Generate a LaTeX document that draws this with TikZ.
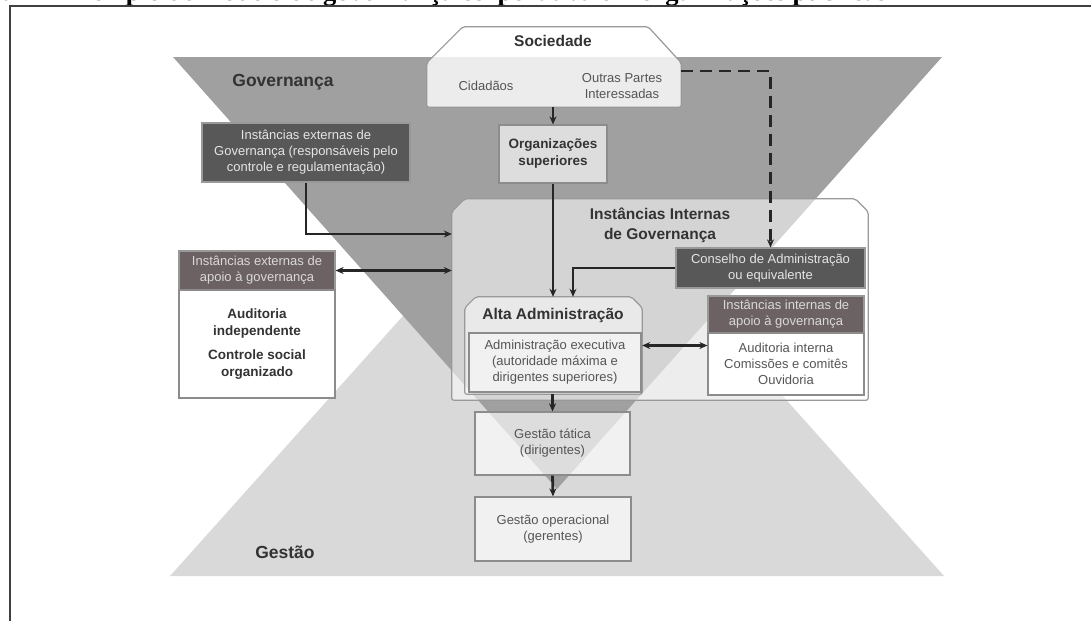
\documentclass[tikz,border=0pt]{standalone}
\usepackage{fontspec}
\setmainfont{Liberation Sans}
\newfontfamily\capfont{Liberation Serif}
\usetikzlibrary{arrows.meta, positioning, calc}

\definecolor{govtri}{RGB}{160,160,160}
\definecolor{gestri}{RGB}{217,217,217}
\definecolor{govdarkbox}{RGB}{88,88,88}
\definecolor{govmauvebox}{RGB}{108,98,100}
\definecolor{govtextgray}{RGB}{85,85,85}

\newcommand{\govtitle}{\fontsize{15.5}{20}\selectfont\bfseries}
\newcommand{\govsub}{\fontsize{13.5}{17}\selectfont\bfseries}
\newcommand{\govtext}{\fontsize{13}{16}\selectfont}
\newcommand{\govlabel}{\fontsize{17.5}{20}\selectfont\bfseries}

\tikzset{
  govblock/.style={rectangle, draw=black!45, line width=1.2pt,
                   align=center, inner sep=2pt, text opacity=1},
  govlight/.style={govblock, fill=white, fill opacity=0.65,
                   text=govtextgray, font=\govtext},
  govwhite/.style={govblock, fill=white, text=govtextgray, font=\govtext},
  govdark/.style={govblock, fill=govdarkbox, draw=black!40,
                  text=white!90!black, font=\govtext},
  govmauve/.style={govblock, fill=govmauvebox, draw=black!40,
                   text=white!85!black, font=\govtext},
  govarea/.style={rectangle, inner sep=0pt},
  govoutline/.style={draw=black!40, line width=1.2pt, fill=white,
                     fill opacity=0.55, rounded corners=2pt},
  govarrow/.style={-{Stealth[length=8pt, width=7pt]}, line width=2.8pt, black!85},
  govdarrow/.style={{Stealth[length=8pt, width=7pt]}-{Stealth[length=8pt, width=7pt]},
                    line width=2.8pt, black!85},
  govdash/.style={govarrow, dash pattern=on 12pt off 7pt},
}

\begin{document}
\begin{tikzpicture}[x=1pt, y=-1pt]
  \useasboundingbox (0,0) rectangle (1091,621);

  % Legenda (cortada) e moldura
  \node[anchor=base west, inner sep=0pt, font=\capfont\fontsize{26.5}{28}\selectfont\bfseries] (legenda) at (-62,0.5)
    {Figura 1 – Exemplo de modelo de governança corporativa em organizações públicas};
  \draw[line width=2pt, black!75] (10,621) -- (10,6) -- (1091,6);

  % Triangulos
  \fill[gestri] (170,576) -- (944,576) -- (557,144) -- cycle;
  \fill[govtri] (173,57) -- (942,57) -- (557,489) -- cycle;
  \node[font=\govlabel, text=black!80] (gov) at (283,82) {Governança};
  \node[font=\govlabel, text=black!80] (gest) at (285,552) {Gestão};

  % Sociedade
  \node[govarea, minimum width=254pt, minimum height=80pt] (soc) at (554,67) {};
  \path[govoutline, fill opacity=0.8] (soc.south west) -- ([yshift=-36pt]soc.north west)
    -- ([xshift=36pt]soc.north west) -- ([xshift=-33pt]soc.north east)
    -- ([yshift=-36pt]soc.north east) -- (soc.south east) -- cycle;
  \node[font=\govtitle, text=black!80] (soctitle) at (553,41) {Sociedade};
  \node[font=\govtext, text=govtextgray] (cid) at (486,86) {Cidadãos};
  \node[font=\govtext, text=govtextgray, align=center] (outras) at (622,86)
    {Outras Partes\\Interessadas};

  % Blocos externos
  \node[govlight, font=\govsub, text=black!80, minimum width=108pt, minimum height=58pt] (orgsup) at (553,154)
    {Organizações\\superiores};
  \node[govdark, minimum width=208pt, minimum height=59pt] (extgov) at (306,152.5)
    {Instâncias externas de\\Governança (responsáveis pelo\\controle e regulamentação)};
  \node[govmauve, minimum width=156pt, minimum height=39pt] (extapoiohead) at (257,270.5)
    {Instâncias externas de\\apoio à governança};
  \node[govwhite, font=\govsub, text=black!80, minimum width=156pt, minimum height=108pt] (extapoiobody) at (257,344)
    {Auditoria\\independente\\[7pt]Controle social\\organizado};

  % Instancias internas
  \node[govarea, minimum width=416pt, minimum height=201pt] (internas) at (660,299.5) {};
  \path[govoutline] (internas.south west) -- ([yshift=-13pt]internas.north west)
    -- ([xshift=13pt]internas.north west) -- ([xshift=-13pt]internas.north east)
    -- ([yshift=-13pt]internas.north east) -- (internas.south east) -- cycle;
  \node[font=\govtitle, text=black!80, align=center] (intitle) at (660,225)
    {Instâncias Internas\\de Governança};
  \node[govdark, minimum width=189pt, minimum height=40pt] (conselho) at (770.5,268)
    {Conselho de Administração\\ou equivalente};

  \node[govarea, minimum width=177pt, minimum height=97pt] (alta) at (553.5,345.5) {};
  \path[govoutline, fill opacity=0.5] (alta.south west) -- ([yshift=-11pt]alta.north west)
    -- ([xshift=11pt]alta.north west) -- ([xshift=-11pt]alta.north east)
    -- ([yshift=-11pt]alta.north east) -- (alta.south east) -- cycle;
  \node[font=\govtitle, text=black!80] (altatitle) at (553,315) {Alta Administração};
  \node[govlight, fill opacity=0.4, minimum width=172pt, minimum height=59pt] (altaexec) at (555,362.5)
    {Administração executiva\\(autoridade máxima e\\dirigentes superiores)};
  \node[govmauve, minimum width=156pt, minimum height=37pt] (intapoiohead) at (786,314.5)
    {Instâncias internas de\\apoio à governança};
  \node[govwhite, minimum width=156pt, minimum height=62pt] (intapoiobody) at (786,364)
    {Auditoria interna\\Comissões e comitês\\Ouvidoria};

  % Gestao
  \node[govlight, minimum width=155pt, minimum height=63pt] (tatica) at (552.5,443.5)
    {Gestão tática\\(dirigentes)};
  \node[govlight, minimum width=156pt, minimum height=64pt] (operac) at (553,529)
    {Gestão operacional\\(gerentes)};

  % Conexoes
  \draw[govarrow] (soc.south -| orgsup) -- (orgsup.north);
  \draw[govarrow] (orgsup.south) -- (orgsup.south |- alta.north);
  \draw[govarrow] (extgov.south) |- ([yshift=65.5pt]internas.west);
  \draw[govdarrow] (extapoiohead.east) -- (extapoiohead.east -| internas.west);
  \draw[govdash] ([yshift=-4pt]soc.north east |- soc.west) -| (conselho.north);
  \draw[govarrow] (conselho.west) -| ([xshift=19.5pt]alta.north);
  \draw[govdarrow] (alta.east) -- (alta.east -| intapoiobody.west);
  \draw[govarrow] (tatica.north |- alta.south) -- (tatica.north);
  \draw[govarrow] (tatica.south) -- (operac.north);
\end{tikzpicture}
\end{document}
